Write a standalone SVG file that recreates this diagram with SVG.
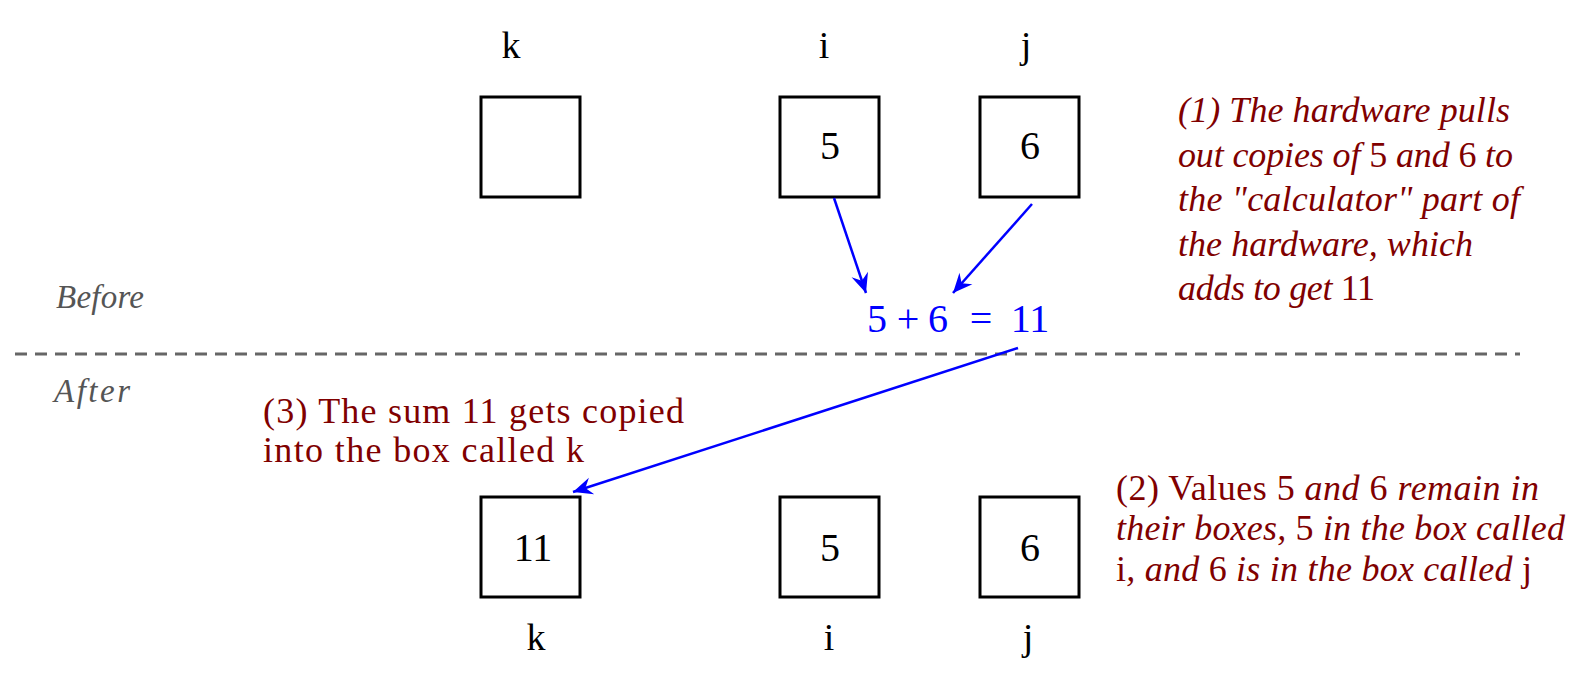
<svg xmlns="http://www.w3.org/2000/svg" width="1585" height="690" viewBox="0 0 1585 690">
<style>
  .box { fill: #ffffff; stroke: #000000; stroke-width: 3; }
  .lbl { font-family: "Liberation Serif", serif; font-size: 38px; fill: #000000; text-anchor: middle; }
  .val { font-family: "Liberation Serif", serif; font-size: 40px; fill: #000000; text-anchor: middle; }
  .sum { font-family: "Liberation Serif", serif; font-size: 40px; fill: #0000ff; text-anchor: middle; }
  .note { font-family: "Liberation Serif", serif; font-size: 36px; fill: #800000; }
  .it { font-style: italic; }
  .up { font-style: normal; }
  .phase { font-family: "Liberation Serif", serif; font-size: 33px; font-style: italic; fill: #555555; }
  .arrow { stroke: #0000ff; stroke-width: 2.5; fill: none; marker-end: url(#stealth); }
  .divider { stroke: #666666; stroke-width: 3; stroke-dasharray: 12 8; }
</style>
<defs>
  <marker id="stealth" markerUnits="userSpaceOnUse" markerWidth="26" markerHeight="26" viewBox="-22 -11 24 22" refX="0" refY="0" orient="auto">
    <path d="M0,0 L-18,-8 L-12,0 L-18,8 Z" fill="#0000ff"/>
  </marker>
</defs>

<g id="divider">
  <line class="divider" x1="15" y1="354" x2="1520" y2="354"/>
  <text class="phase" x="56" y="308" textLength="88">Before</text>
  <text class="phase" x="54" y="402" textLength="76">After</text>
</g>

<g id="before-k">
  <text class="lbl" x="511" y="58">k</text>
  <rect class="box" x="481" y="97" width="99" height="100"/>
</g>
<g id="before-i">
  <text class="lbl" x="824" y="58">i</text>
  <rect class="box" x="780" y="97" width="99" height="100"/>
  <text class="val" x="830" y="159">5</text>
</g>
<g id="before-j">
  <text class="lbl" x="1026" y="58">j</text>
  <rect class="box" x="980" y="97" width="99" height="100"/>
  <text class="val" x="1030" y="159">6</text>
</g>

<g id="calculator">
  <text class="sum" x="877" y="332">5</text>
  <text class="sum" x="908" y="332">+</text>
  <text class="sum" x="938" y="332">6</text>
  <text class="sum" x="981" y="332">=</text>
  <text class="sum" x="1030" y="332">11</text>
</g>

<g id="after-k">
  <rect class="box" x="481" y="497" width="99" height="100"/>
  <text class="val" x="533" y="561">11</text>
  <text class="lbl" x="536" y="650">k</text>
</g>
<g id="after-i">
  <rect class="box" x="780" y="497" width="99" height="100"/>
  <text class="val" x="830" y="561">5</text>
  <text class="lbl" x="829" y="650">i</text>
</g>
<g id="after-j">
  <rect class="box" x="980" y="497" width="99" height="100"/>
  <text class="val" x="1030" y="561">6</text>
  <text class="lbl" x="1028" y="650">j</text>
</g>

<g id="note1" class="note">
  <text x="1178" y="122" textLength="332"><tspan class="it">(1) The hardware pulls</tspan></text>
  <text x="1178" y="167" textLength="335"><tspan class="it">out copies of </tspan><tspan class="up">5</tspan><tspan class="it"> and </tspan><tspan class="up">6</tspan><tspan class="it"> to</tspan></text>
  <text x="1178" y="211" textLength="342"><tspan class="it">the "calculator" part of</tspan></text>
  <text x="1178" y="256" textLength="295"><tspan class="it">the hardware, which</tspan></text>
  <text x="1178" y="300" textLength="197"><tspan class="it">adds to get </tspan><tspan class="up">11</tspan></text>
</g>

<g id="note2" class="note">
  <text x="1116" y="500" textLength="423"><tspan class="up">(2) Values 5 </tspan><tspan class="it">and </tspan><tspan class="up">6</tspan><tspan class="it"> remain in</tspan></text>
  <text x="1116" y="540" textLength="449"><tspan class="it">their boxes, </tspan><tspan class="up">5</tspan><tspan class="it"> in the box called</tspan></text>
  <text x="1116" y="581" textLength="416"><tspan class="up">i</tspan><tspan class="it">, and </tspan><tspan class="up">6</tspan><tspan class="it"> is in the box called </tspan><tspan class="up">j</tspan></text>
</g>

<g id="note3" class="note">
  <text x="263" y="423" textLength="421">(3) The sum 11 gets copied</text>
  <text x="263" y="462" textLength="321">into the box called k</text>
</g>

<g id="connectors">
  <line class="arrow" x1="834" y1="198" x2="866" y2="293"/>
  <line class="arrow" x1="1032" y1="204" x2="953" y2="293"/>
  <line class="arrow" x1="1018" y1="348" x2="573" y2="492"/>
</g>
</svg>
